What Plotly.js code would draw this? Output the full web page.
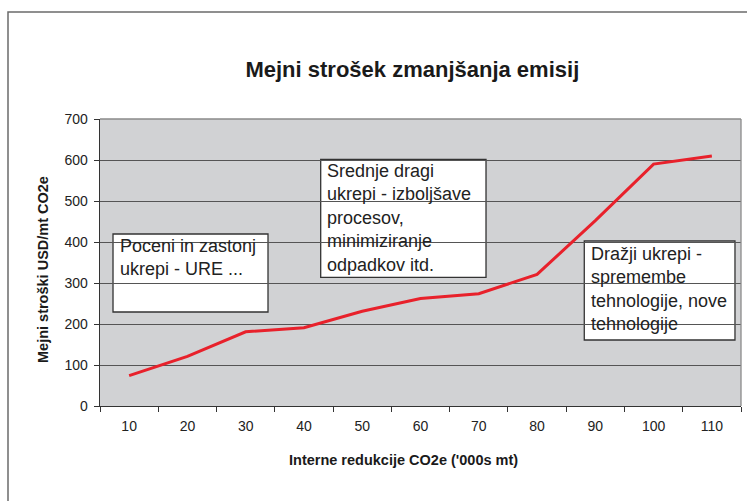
<!DOCTYPE html>
<html>
<head>
<meta charset="utf-8">
<script src="https://cdn.plot.ly/plotly-3.0.1.min.js"></script>
<style>
html, body { margin: 0; padding: 0; background: #ffffff; }
#chart { width: 747px; height: 501px; }
</style>
</head>
<body>
<div id="chart"></div>
<script>
// Data
const categories = ["10", "20", "30", "40", "50", "60", "70", "80", "90", "100", "110"];
const costs = [74, 121, 181, 191, 231, 262, 274, 321, 452, 590, 610];
const yTicks = [0, 100, 200, 300, 400, 500, 600, 700];

const chartTitle = "Mejni strošek zmanjšanja emisij";
const xTitle = "Interne redukcije CO2e ('000s mt)";
const yTitle = "Mejni stroški USD/mt CO2e";

const noteCheap = "Poceni in zastonj<br>ukrepi - URE ...";
const noteMedium = "Srednje dragi<br>ukrepi - izboljšave<br>procesov,<br>minimiziranje<br>odpadkov itd.";
const noteExpensive = "Dražji ukrepi -<br>spremembe<br>tehnologije, nove<br>tehnologije";

const FONT = "Liberation Sans, Arial, Helvetica, sans-serif";

const trace = {
  type: "scatter",
  mode: "lines",
  x: categories,
  y: costs,
  line: { color: "#e8212b", width: 3 },
  hoverinfo: "x+y"
};

const boxStyle = { type: "rect", xref: "paper", yref: "paper", layer: "between",
  fillcolor: "#ffffff", line: { color: "#333333", width: 1.3 } };

const noteStyle = { xref: "paper", yref: "paper", xanchor: "left", yanchor: "top",
  align: "left", showarrow: false, borderpad: 0,
  font: { family: FONT, size: 18, color: "#222222" } };

const axisTitleStyle = { xref: "paper", yref: "paper", xanchor: "center", yanchor: "middle",
  showarrow: false, borderpad: 0,
  font: { family: FONT, size: 14.5, color: "#1a1a1a" } };

const layout = {
  width: 747,
  height: 501,
  margin: { l: 100, r: 6, t: 119, b: 95 },
  paper_bgcolor: "#ffffff",
  plot_bgcolor: "#d1d2d4",
  showlegend: false,
  font: { family: FONT, color: "#222222" },
  title: {
    text: "<b>" + chartTitle + "</b>",
    font: { family: FONT, size: 22, color: "#1a1a1a" },
    x: 0.552, xref: "container", xanchor: "center",
    y: 0.862, yref: "container", yanchor: "middle"
  },
  xaxis: {
    type: "category",
    categoryorder: "array",
    categoryarray: categories,
    range: [-0.5, 10.5],
    tickson: "boundaries",
    ticks: "outside",
    ticklen: 5,
    tickcolor: "#333333",
    showgrid: false,
    showline: true,
    linecolor: "#333333",
    linewidth: 1.3,
    zeroline: false,
    tickfont: { family: FONT, size: 14, color: "#222222" },
    ticklabelstandoff: 7,
    automargin: false,
    fixedrange: true
  },
  yaxis: {
    range: [0, 700],
    tickvals: yTicks,
    ticktext: yTicks.map(String),
    ticks: "outside",
    ticklen: 5,
    tickcolor: "#333333",
    showgrid: true,
    gridcolor: "#555555",
    gridwidth: 1,
    showline: true,
    linecolor: "#333333",
    linewidth: 1.3,
    zeroline: false,
    tickfont: { family: FONT, size: 14, color: "#222222" },
    ticklabelstandoff: 3,
    automargin: false,
    fixedrange: true
  },
  shapes: [
    // outer chart frame (open at right/bottom edges as in the reference)
    { type: "rect", xref: "paper", yref: "paper", layer: "below",
      x0: -92 / 641, x1: 660 / 641, y0: -110 / 287, y1: 394 / 287,
      line: { color: "#6b6b6b", width: 1.5 }, fillcolor: "rgba(0,0,0,0)" },
    // plot area border (top/right)
    { type: "line", xref: "paper", yref: "paper", layer: "above",
      x0: 0, x1: 1, y0: 1, y1: 1, line: { color: "#8a8a8a", width: 1.3 } },
    { type: "line", xref: "paper", yref: "paper", layer: "above",
      x0: 1, x1: 1, y0: 0, y1: 1, line: { color: "#8a8a8a", width: 1.3 } },
    Object.assign({}, boxStyle, { x0: 0.0203, x1: 0.2621, y0: 0.3275, y1: 0.5993 }),
    Object.assign({}, boxStyle, { x0: 0.3443, x1: 0.6022, y0: 0.4484, y1: 0.8596 }),
    Object.assign({}, boxStyle, { x0: 0.7555, x1: 0.9906, y0: 0.2300, y1: 0.5749 })
  ],
  annotations: [
    Object.assign({}, noteStyle, { text: noteCheap, x: 0.0296, y: 0.596 }),
    Object.assign({}, noteStyle, { text: noteMedium, x: 0.3526, y: 0.857 }),
    Object.assign({}, noteStyle, { text: noteExpensive, x: 0.7644, y: 0.569 }),
    // axis titles
    Object.assign({}, axisTitleStyle, { text: "<b>" + xTitle + "</b>", x: 0.4727, y: -0.188 }),
    Object.assign({}, axisTitleStyle, { text: "<b>" + yTitle + "</b>", x: -0.0889, y: 0.4739, textangle: -90 })
  ]
};

Plotly.newPlot("chart", [trace], layout, { displayModeBar: false, staticPlot: true });
</script>
</body>
</html>
